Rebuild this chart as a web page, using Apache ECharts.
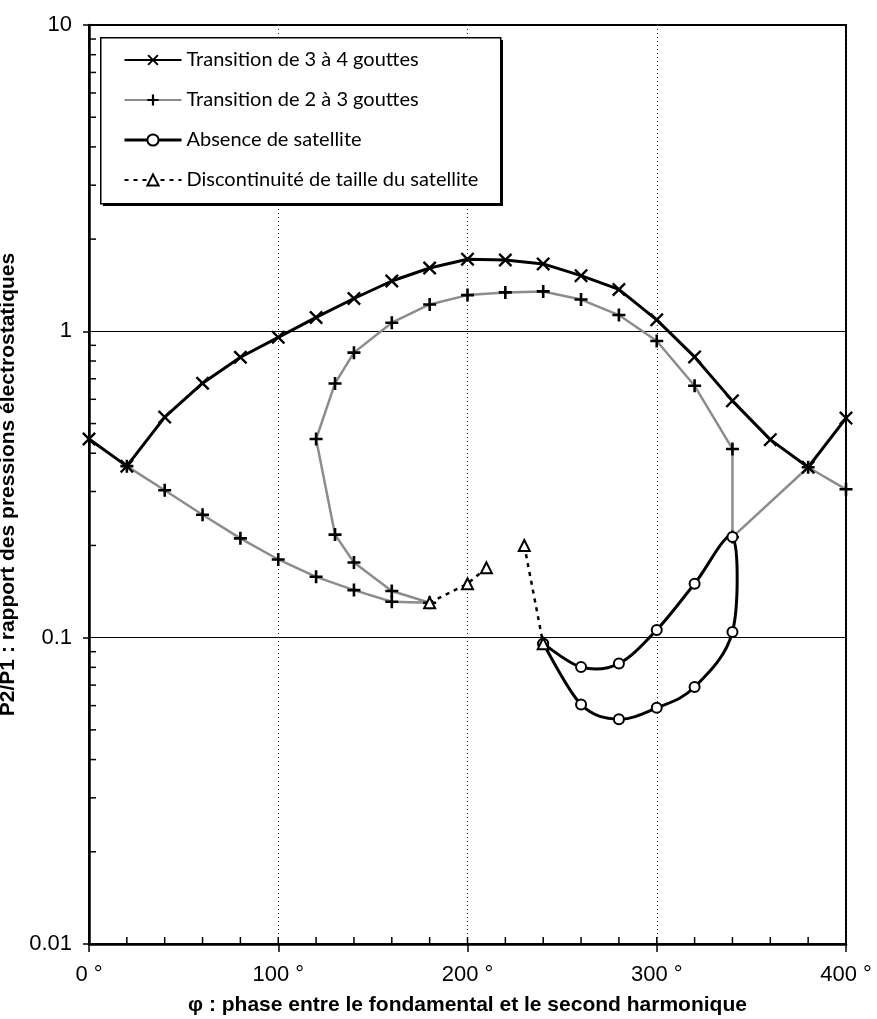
<!DOCTYPE html>
<html>
<head>
<meta charset="utf-8">
<script src="https://cdn.jsdelivr.net/npm/echarts@6/dist/echarts.min.js"></script>
<style>
  html, body { margin: 0; padding: 0; background: #fff; }
  #chart { width: 877px; height: 1019px; }
</style>
</head>
<body>
<div id="chart"></div>
<script>
// noms des series
var seriesNames = [
    'Transition de 3 à 4 gouttes',
    'Transition de 2 à 3 gouttes',
    'Absence de satellite',
    'Discontinuité de taille du satellite'
];

// transition 3 -> 4 gouttes
var s1X = [0, 20, 40, 60, 80, 100, 120, 140, 160, 180, 200, 220, 240, 260, 280, 300, 320, 340, 360, 380, 400];
var s1Y = [0.445, 0.363, 0.525, 0.677, 0.823, 0.956, 1.11, 1.28, 1.46, 1.61, 1.72, 1.71, 1.66, 1.52, 1.37, 1.09, 0.825, 0.593, 0.443, 0.36, 0.521];

// transition 2 -> 3 gouttes (spirale)
var s2X = [20, 40, 60, 80, 100, 120, 140, 160, 180, 160, 140, 130, 120, 130, 140, 160, 180, 200, 220, 240, 260, 280, 300, 320, 340, 340, 380, 400];
var s2Y = [0.363, 0.303, 0.252, 0.211, 0.180, 0.158, 0.143, 0.131, 0.130, 0.142, 0.176, 0.217, 0.445, 0.676, 0.852, 1.067, 1.224, 1.313, 1.34, 1.35, 1.27, 1.13, 0.93, 0.664, 0.413, 0.213, 0.36, 0.305];

// absence de satellite (boucle)
var s3X = [240, 260, 280, 300, 320, 340, 340, 320, 300, 280, 260, 240];
var s3Y = [0.0956, 0.0802, 0.0823, 0.106, 0.150, 0.213, 0.1044, 0.069, 0.059, 0.0542, 0.0605, 0.0956];

// discontinuite (null = coupure)
var s4X = [180, 200, 210, null, 230, 240];
var s4Y = [0.130, 0.150, 0.169, null, 0.200, 0.0956];

// graduations
var xTickLabels = ['0 °', '100 °', '200 °', '300 °', '400 °'];
var yTickLabels = ['0.01', '0.1', '1', '10'];
var xMinorTicks = [20, 40, 60, 80, 100, 120, 140, 160, 180, 200, 220, 240, 260, 280, 300, 320, 340, 360, 380];
var yMinorTicks = [];
[0.01, 0.1, 1].forEach(function (d) {
    for (var k = 2; k <= 9; k++) {
        yMinorTicks.push(+(k * d).toPrecision(3));
    }
});

function pairs(xs, ys) {
    var out = [];
    for (var i = 0; i < xs.length; i++) {
        if (xs[i] === null || ys[i] === null) {
            out.push(['-', '-']);
        } else {
            out.push([xs[i], ys[i]]);
        }
    }
    return out;
}

var crossX = 'path://M0,1.2L1.2,0L5,3.8L8.8,0L10,1.2L6.2,5L10,8.8L8.8,10L5,6.2L1.2,10L0,8.8L3.8,5Z';
var crossPlus = 'path://M4,0H6V4H10V6H6V10H4V6H0V4H4Z';

/**
 * courbe lissee facon tableur (catmull-rom) pour la boucle
 */
function renderSmooth(params, api) {
    var i = params.dataIndex;
    if (i >= s3X.length - 1) {
        return null;
    }
    var pt = function (k) {
        k = Math.max(0, Math.min(s3X.length - 1, k));
        return api.coord([s3X[k], s3Y[k]]);
    };
    var p0 = pt(i - 1), p1 = pt(i), p2 = pt(i + 1), p3 = pt(i + 2);
    return {
        type: 'bezierCurve',
        shape: {
            x1: p1[0], y1: p1[1],
            cpx1: p1[0] + (p2[0] - p0[0]) / 6, cpy1: p1[1] + (p2[1] - p0[1]) / 6,
            cpx2: p2[0] - (p3[0] - p1[0]) / 6, cpy2: p2[1] - (p3[1] - p1[1]) / 6,
            x2: p2[0], y2: p2[1]
        },
        style: {stroke: '#000', lineWidth: 3, fill: null}
    };
}

var myChart = echarts.init(document.getElementById('chart'), null, {renderer: 'canvas'});

var option = {
    animation: false,
    backgroundColor: '#fff',
    textStyle: {fontFamily: 'Liberation Sans, Arial, sans-serif'},
    grid: {
        left: 89,
        right: 31,
        top: 25,
        bottom: 75,
        show: true,
        borderColor: '#000',
        borderWidth: 2,
        backgroundColor: 'transparent',
        outerBoundsMode: 'none'
    },
    // cadre de la legende avec ombre
    graphic: [
        {type: 'rect', left: 103, top: 40, z: 30, shape: {width: 400, height: 166}, style: {fill: '#000'}},
        {type: 'rect', left: 100, top: 37, z: 31, shape: {width: 400, height: 166}, style: {fill: '#fff', stroke: '#000', lineWidth: 1.5}}
    ],
    legend: {
        data: [
            {name: seriesNames[0]},
            {name: seriesNames[1]},
            {name: seriesNames[2], lineStyle: {opacity: 1, color: '#000', width: 3}},
            {name: seriesNames[3]}
        ],
        orient: 'vertical',
        left: 100,
        top: 37,
        z: 40,
        padding: [13, 10, 10, 23],
        itemWidth: 57,
        itemHeight: 14,
        itemGap: 20,
        textStyle: {
            fontFamily: 'Lato, DejaVu Sans, sans-serif',
            fontSize: 20,
            color: '#000'
        }
    },
    xAxis: {
        type: 'value',
        min: 0,
        max: 400,
        interval: 100,
        name: 'φ : phase entre le fondamental et le second harmonique',
        nameLocation: 'middle',
        nameGap: 51,
        nameTextStyle: {
            fontFamily: 'Liberation Sans, Arial, sans-serif',
            fontWeight: 'bold',
            fontSize: 21,
            color: '#000'
        },
        axisLine: {show: true, onZero: false, lineStyle: {color: '#000', width: 2.5}},
        axisTick: {show: true, inside: false, length: 8, lineStyle: {color: '#000', width: 1.5}},
        axisLabel: {
            margin: 20,
            fontSize: 22,
            color: '#000',
            formatter: function (v) {
                return xTickLabels[Math.round(v / 100)];
            }
        },
        splitLine: {show: true, lineStyle: {color: '#222', width: 1, type: [1, 3]}}
    },
    yAxis: {
        type: 'log',
        logBase: 10,
        min: 0.01,
        max: 10,
        name: 'P2/P1 : rapport des pressions électrostatiques',
        nameLocation: 'middle',
        nameGap: 55,
        nameTextStyle: {
            fontFamily: 'Liberation Sans, Arial, sans-serif',
            fontWeight: 'bold',
            fontSize: 21,
            color: '#000'
        },
        axisLine: {show: true, onZero: false, lineStyle: {color: '#000', width: 2.5}},
        axisTick: {show: true, inside: false, length: 6, lineStyle: {color: '#000', width: 1.5}},
        axisLabel: {
            margin: 17,
            fontSize: 22,
            color: '#000',
            formatter: function (v) {
                return yTickLabels[Math.round(Math.log10(v)) + 2];
            }
        },
        splitLine: {show: true, lineStyle: {color: '#000', width: 1.2}}
    },
    series: [
        {
            name: seriesNames[0],
            type: 'line',
            data: pairs(s1X, s1Y),
            symbol: crossX,
            symbolSize: 14,
            lineStyle: {color: '#000', width: 3},
            itemStyle: {color: '#000'},
            z: 4
        },
        {
            name: seriesNames[1],
            type: 'line',
            data: pairs(s2X, s2Y),
            symbol: crossPlus,
            symbolSize: 13,
            lineStyle: {color: '#8c8c8c', width: 2.5},
            itemStyle: {color: '#000'},
            z: 3
        },
        {
            // trace lisse dessine par la serie custom ci-dessous
            name: seriesNames[2],
            type: 'line',
            data: pairs(s3X, s3Y),
            symbol: 'emptyCircle',
            symbolSize: 10,
            lineStyle: {color: '#000', width: 3, opacity: 0},
            itemStyle: {color: '#000', borderColor: '#000', borderWidth: 2.2},
            z: 6
        },
        {
            type: 'custom',
            silent: true,
            data: pairs(s3X, s3Y),
            renderItem: renderSmooth,
            z: 5
        },
        {
            name: seriesNames[3],
            type: 'line',
            data: pairs(s4X, s4Y),
            connectNulls: false,
            symbol: 'emptyTriangle',
            symbolSize: 11,
            lineStyle: {color: '#000', width: 2.5, type: [4, 5]},
            itemStyle: {color: '#000', borderColor: '#000', borderWidth: 2},
            z: 7
        },
        {
            // petites graduations de l'axe log
            type: 'custom',
            silent: true,
            data: yMinorTicks.map(function (v) { return [0, v]; }),
            renderItem: function (params, api) {
                var p = api.coord([0, api.value(1)]);
                return {
                    type: 'line',
                    shape: {x1: p[0], y1: p[1], x2: p[0] + 7, y2: p[1]},
                    style: {stroke: '#000', lineWidth: 1.5}
                };
            },
            z: 2
        },
        {
            // graduations vers l'interieur sur l'axe des phases
            type: 'custom',
            silent: true,
            data: xMinorTicks.map(function (v) { return [v, 0.01]; }),
            renderItem: function (params, api) {
                var p = api.coord([api.value(0), 0.01]);
                return {
                    type: 'line',
                    shape: {x1: p[0], y1: p[1], x2: p[0], y2: p[1] - 7},
                    style: {stroke: '#000', lineWidth: 1.5}
                };
            },
            z: 2
        }
    ]
};

myChart.setOption(option);
</script>
</body>
</html>
